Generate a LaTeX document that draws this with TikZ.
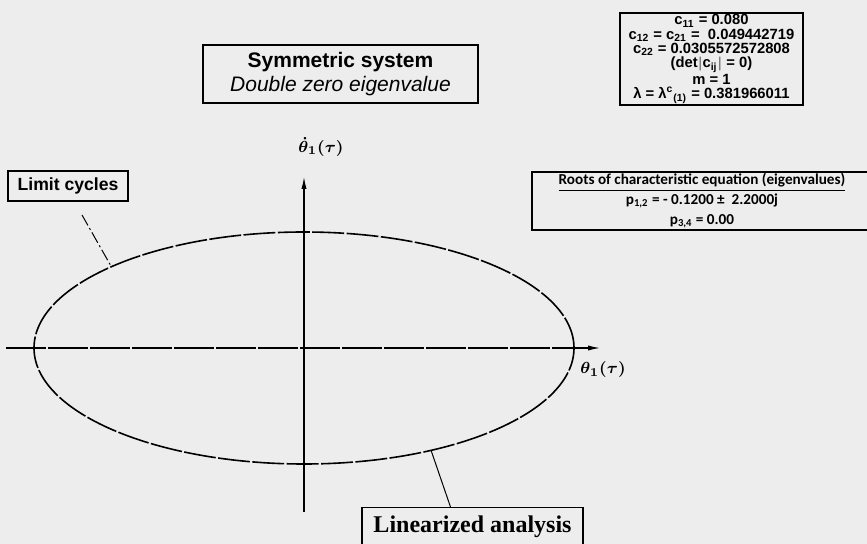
\documentclass[tikz,border=0pt]{standalone}
\usepackage{fontspec}
\setmainfont{Liberation Serif}
\setsansfont{Liberation Sans}
\newfontfamily\rootsfont{Carlito}
\usepackage{tikz}
\usetikzlibrary{positioning}
\usetikzlibrary{shapes.geometric}
\usetikzlibrary {arrows.meta}

\begin{document}
\begin{tikzpicture}[x=0.5pt, y=-0.5pt,
					box/.style={rectangle, draw=black, line width=0.7pt, inner sep=0pt, align=center},
					orbitline/.style={line width=0.8pt, dash pattern=on 16pt off 1.2pt},
					axis/.style={line width=0.55pt, -{Latex[length=6pt, width=2.6pt]}},
					lab/.style={font=\fontsize{8.5}{10}\selectfont\boldmath}
					]
					
					%Page
					\fill[black!7] (0,0) rectangle (867,544);
					\useasboundingbox (0,0) rectangle (867,544);
					
					%Nodes
					\node[box, minimum width=137.5pt, minimum height=29pt, font=\sffamily\fontsize{10.5}{12}\selectfont] (sym) at (340.5,74) {\textbf{Symmetric system}\\\textit{Double zero eigenvalue}};
					\node[box, minimum width=91.5pt, minimum height=46pt, font=\sffamily\bfseries\fontsize{7.4}{7.1}\selectfont] (param) at (711.5,59) {c\textsubscript{11} = 0.080\\c\textsubscript{12} = c\textsubscript{21} = \ 0.049442719\\c\textsubscript{22} = 0.0305572572808\\(det$|$c\textsubscript{ij}$|$ = 0)\\m = 1\\λ = λ\textsuperscript{c}\textsubscript{(1)} = 0.381966011};
					\node[box, minimum width=170pt, minimum height=29pt, font=\rootsfont\bfseries\fontsize{7.6}{10}\selectfont] (roots) at (702,201) {\underline{Roots of characteristic equation (eigenvalues)}\\p\textsubscript{1,2} = - 0.1200 ± \ 2.2000j\\p\textsubscript{3,4} = 0.00};
					\node[box, minimum width=60pt, minimum height=15pt, font=\sffamily\bfseries\fontsize{8.8}{10}\selectfont] (lim) at (68,186) {Limit cycles};
					\node[box, anchor=north, minimum width=110.5pt, inner ysep=4pt, font=\rmfamily\bfseries\fontsize{12}{14}\selectfont] (lin) at (472.5,507) {Linearized analysis};
					\node[ellipse, draw, orbitline, minimum width=270pt, minimum height=116pt, inner sep=0pt] (orbit) at (304,348) {};
					
					\coordinate (vbot)   at (304,512);
					\coordinate (vtop)   at (304,177);
					\coordinate (hleft)  at (6,348);
					\coordinate (hright) at (600,348);
					\coordinate (lctail) at (82,215);
					
					\node[lab] (thd) at (321,147) {$\dot{\theta}_1(\tau)$};
					\node[lab] (th)  at (603,370) {$\theta_1(\tau)$};
					
					%Lines
					\draw[axis] (vbot) to (vtop);
					\draw[axis, dash pattern=on 20pt off 1pt] (hleft) to (hright);
					\draw[line width=0.5pt, dash pattern=on 6pt off 1.5pt on 1pt off 1.5pt] (lctail) to (orbit.157);
					\draw[line width=0.5pt] (orbit.321.7) to ([xshift=-11pt]lin.north);
				\end{tikzpicture}
\end{document}
